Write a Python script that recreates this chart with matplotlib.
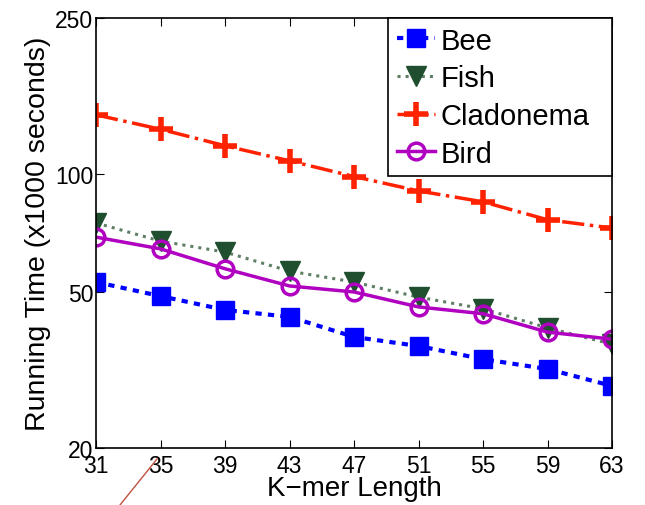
import matplotlib.pyplot as plt
from matplotlib.lines import Line2D
from matplotlib.ticker import FixedLocator, NullLocator, FixedFormatter

plt.rcParams['font.family'] = ['Liberation Sans', 'DejaVu Sans']

# data
kmer = [31, 35, 39, 43, 47, 51, 55, 59, 63]
bee = [53, 48.8, 45, 43.2, 38.4, 36.4, 33.7, 31.8, 28.8]
fish = [75, 67.4, 63.2, 56.5, 53, 48.5, 45.3, 40.5, 36.8]
cladonema = [141.5, 130, 118, 108, 98.5, 90.5, 84.9, 76.4, 72.8]
bird = [69, 64.4, 57.3, 51.8, 50, 45.8, 44, 39.5, 37.9]
y_ticks = [20, 50, 100, 250]

fig = plt.figure(figsize=(6.45, 5.06), dpi=100)
ax = fig.add_axes([0.149, 0.1126, 0.8, 0.85])

ax.plot(kmer, bee, color='#0000ff', linestyle=(0, (1.5, 1.5)), linewidth=3,
        marker='s', markersize=13, label='Bee')
ax.plot(kmer, fish, color='#5e7e66', linestyle=':', linewidth=2.2,
        marker='v', markersize=14, markerfacecolor='#1f4f2f',
        markeredgecolor='#1f4f2f', label='Fish')
ax.plot(kmer, cladonema, color='#ff2200', linestyle='-.', linewidth=2.5,
        marker='+', markersize=17, markeredgewidth=4, label='Cladonema')
ax.plot(kmer, bird, color='#b000c0', linestyle='-', linewidth=2.5,
        marker='o', markersize=12, markerfacecolor='none', markeredgewidth=2.5,
        label='Bird')

ax.set_yscale('log')
ax.set_ylim(20, 250)
ax.set_xlim(31, 63)
ax.yaxis.set_major_locator(FixedLocator(y_ticks))
ax.yaxis.set_major_formatter(FixedFormatter([str(t) for t in y_ticks]))
ax.yaxis.set_minor_locator(NullLocator())
ax.set_xticks(kmer)
ax.tick_params(direction='in', top=True, right=True, labelsize=16.5, length=6, pad=4)
ax.tick_params(axis='y', pad=2)
for s in ax.spines.values():
    s.set_linewidth(1.2)

ax.set_xlabel('K\u2212mer Length', fontsize=20, labelpad=-1)
ax.set_ylabel('Running Time (x1000 seconds)', fontsize=20.5, labelpad=3)

leg = ax.legend(loc='upper right', bbox_to_anchor=(0.566, 0.0, 0.434, 1.0),
                mode='expand', fontsize=21, handlelength=1.3, handletextpad=0.2,
                borderaxespad=0, fancybox=False, framealpha=1, edgecolor='black',
                labelspacing=0.33, borderpad=0.3)
leg.get_frame().set_linewidth(1.2)

# stray annotation line at the bottom-left
fig.add_artist(Line2D([120 / 645, 157 / 645], [0, 1 - 460 / 506],
                      color='#c05040', linewidth=1))

fig.savefig('out.png', dpi=100)
